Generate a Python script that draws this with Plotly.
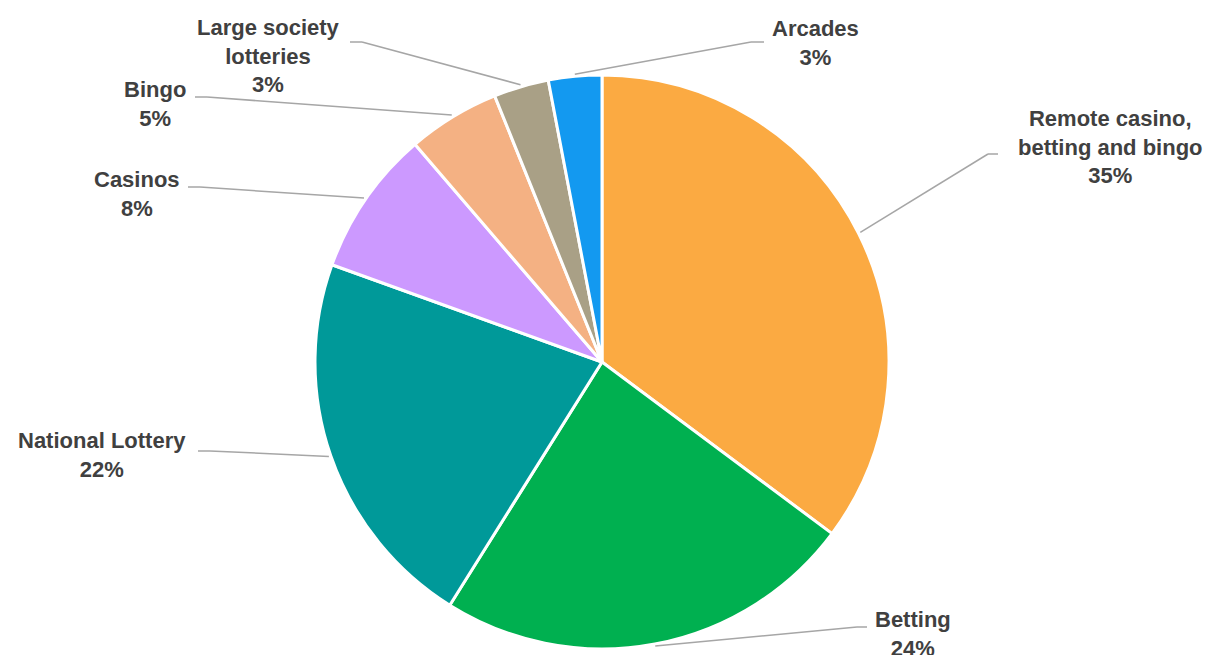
import math
import plotly.graph_objects as go

# ---- data ----
categories = ["Remote casino,<br>betting and bingo", "Betting", "National Lottery",
              "Casinos", "Bingo", "Large society<br>lotteries", "Arcades"]
shares = [35.2, 23.7, 21.6, 8.2, 5.2, 3.1, 3.0]
colors = ["#FBAA42", "#00B050", "#009999", "#CC99FF", "#F4B183", "#A9A086", "#1399F0"]

# ---- layout config (pixels) ----
W, H = 1210, 655
CX, CY, R = 602, 362, 287
# label block centre, leader elbow, leader end (near the text)
label_pos = [(1110, 147), (913, 634), (102, 455), (137, 194), (155, 104), (268, 56), (815, 43)]
elbows = [(988, 154), (857, 627), (210, 451), (200, 187), (207, 97), (362, 42), (751, 42)]
ends = [(998, 154), (867, 627), (198, 451), (188, 187), (195, 97), (350, 42), (764, 42)]


def px(x, y):
    return x / W, 1 - y / H


fig = go.Figure(go.Pie(
    labels=[c.replace("<br>", " ") for c in categories],
    values=shares,
    sort=False,
    direction="clockwise",
    rotation=0,
    textinfo="none",
    hoverinfo="label+percent",
    marker=dict(colors=colors, line=dict(color="white", width=3)),
    domain=dict(x=[(CX - R) / W, (CX + R) / W], y=[(H - CY - R) / H, (H - CY + R) / H]),
    showlegend=False,
))

total = sum(shares)
cum = 0.0
shapes, annotations = [], []
for i, v in enumerate(shares):
    mid = (cum + v / 2) / total * 2 * math.pi
    cum += v
    sx = CX + (R + 2) * math.sin(mid)
    sy = CY - (R + 2) * math.cos(mid)
    pts = [(sx, sy), elbows[i], ends[i]]
    for (x0, y0), (x1, y1) in zip(pts[:-1], pts[1:]):
        a0, b0 = px(x0, y0)
        a1, b1 = px(x1, y1)
        shapes.append(dict(type="line", xref="paper", yref="paper", x0=a0, y0=b0, x1=a1, y1=b1,
                           line=dict(color="#A6A6A6", width=1.5)))
    lx, ly = px(*label_pos[i])
    pct = round(v / total * 100)
    annotations.append(dict(
        x=lx, y=ly, xref="paper", yref="paper", xanchor="center", yanchor="middle",
        text=f"<b>{categories[i]}<br>{pct}%</b>", showarrow=False, align="center",
        font=dict(family="Liberation Sans, Arial, sans-serif", size=22, color="#404040"),
    ))

fig.update_layout(
    width=W, height=H,
    margin=dict(l=0, r=0, t=0, b=0),
    paper_bgcolor="white", plot_bgcolor="white",
    shapes=shapes, annotations=annotations,
)
fig.write_html("out.html")
